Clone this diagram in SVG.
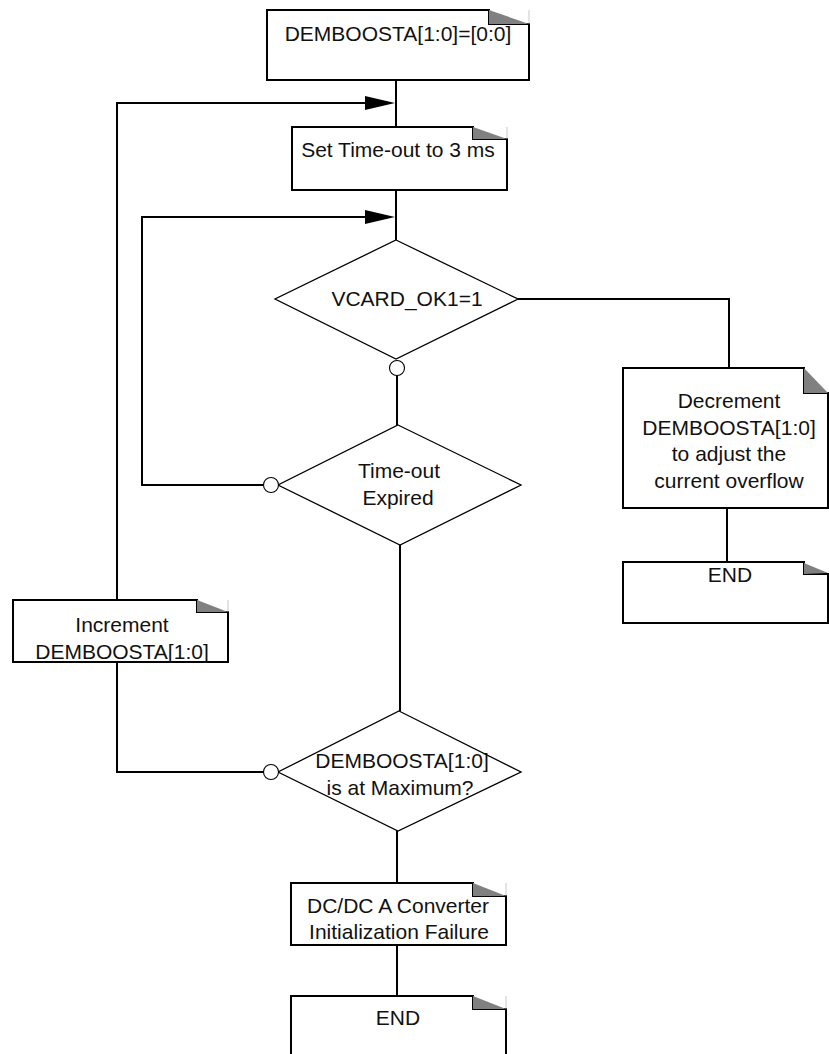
<svg xmlns="http://www.w3.org/2000/svg" width="829" height="1054" viewBox="0 0 829 1054">
<style>
  .box { fill: #fff; stroke: #000; stroke-width: 2; }
  .fold { fill: #808080; stroke: none; }
  .foldedge { stroke: #bbb; stroke-width: 0.8; fill: none; }
  .dia { fill: #fff; stroke: #000; stroke-width: 1.3; }
  .con { fill: none; stroke: #000; stroke-width: 2; }
  .arr { fill: #000; stroke: none; }
  .dot { fill: #fff; stroke: #000; stroke-width: 1.1; }
  text { font-family: "Liberation Sans", Arial, Helvetica, sans-serif; font-size: 21px; fill: #111; text-anchor: middle; }
</style>
<rect width="829" height="1054" fill="#fff"/>
<g id="connectors">
  <path class="con" d="M396,80 V127"/>
  <path class="con" d="M396,190 V240"/>
  <path class="con" d="M117,600 V103 H368"/>
  <polygon class="arr" points="365,96 395,103 365,110"/>
  <path class="con" d="M263.5,485 H142 V217 H368"/>
  <polygon class="arr" points="365,210 395,217 365,224"/>
  <path class="con" d="M397,375.5 V425"/>
  <path class="con" d="M518,299 H729 V368"/>
  <path class="con" d="M400,545 V711"/>
  <path class="con" d="M727,508 V562"/>
  <path class="con" d="M117,662 V772 H263.5"/>
  <path class="con" d="M397,831 V883"/>
  <path class="con" d="M397,945 V996"/>
</g>
<g id="start">
  <path class="box" d="M267,10 H489 V24 H529 V80 H267 Z"/>
  <polygon class="fold" points="489,10 529,24 489,24"/>
  <path class="foldedge" d="M529,10 V24"/>
  <text x="398" y="41">DEMBOOSTA[1:0]=[0:0]</text>
</g>
<g id="settimeout">
  <path class="box" d="M292,127 H473 V139 H507 V190 H292 Z"/>
  <polygon class="fold" points="473,127 507,139 473,139"/>
  <path class="foldedge" d="M507,127 V139"/>
  <text x="398" y="157">Set Time-out to 3 ms</text>
</g>
<g id="vcard">
  <polygon class="dia" points="396,240 518,299 396,359 275,299"/>
  <text x="407" y="306">VCARD_OK1=1</text>
  <circle class="dot" cx="397" cy="368" r="7.5"/>
</g>
<g id="timeoutexpired">
  <polygon class="dia" points="398,425 521,485 400,545 278,485"/>
  <text x="399" y="478">Time-out</text>
  <text x="398" y="505">Expired</text>
  <circle class="dot" cx="271" cy="485" r="7.5"/>
</g>
<g id="decrement">
  <path class="box" d="M623,368 H804 V393 H828 V508 H623 Z"/>
  <polygon class="fold" points="804,368 828,393 804,393"/>
  <text x="729" y="408">Decrement</text>
  <text x="729" y="435">DEMBOOSTA[1:0]</text>
  <text x="729" y="461">to adjust the</text>
  <text x="729" y="488">current overflow</text>
</g>
<g id="end-right">
  <path class="box" d="M623,562 H804 V574 H828 V623 H623 Z"/>
  <polygon class="fold" points="804,563 828,573 804,574"/>
  <text x="730" y="582">END</text>
</g>
<g id="increment">
  <path class="box" d="M13,600 H197 V612 H228 V662 H13 Z"/>
  <polygon class="fold" points="197,600 228,612 197,612"/>
  <path class="foldedge" d="M228,600 V612"/>
  <text x="122" y="632">Increment</text>
  <text x="122" y="659">DEMBOOSTA[1:0]</text>
</g>
<g id="atmaximum">
  <polygon class="dia" points="399,711 521,772 398,831 278,772"/>
  <text x="402" y="768">DEMBOOSTA[1:0]</text>
  <text x="400" y="795">is at Maximum?</text>
  <circle class="dot" cx="271" cy="772" r="7.5"/>
</g>
<g id="failure">
  <path class="box" d="M291,883 H473 V896 H506 V945 H291 Z"/>
  <polygon class="fold" points="473,883 506,896 473,896"/>
  <path class="foldedge" d="M506,883 V896"/>
  <text x="398" y="913">DC/DC A Converter</text>
  <text x="399" y="939">Initialization Failure</text>
</g>
<g id="end-bottom">
  <path class="box" d="M291,996 H473 V1009 H506 V1062 H291 Z"/>
  <polygon class="fold" points="473,996 506,1009 473,1009"/>
  <path class="foldedge" d="M506,996 V1009"/>
  <text x="398" y="1025">END</text>
</g>
</svg>
